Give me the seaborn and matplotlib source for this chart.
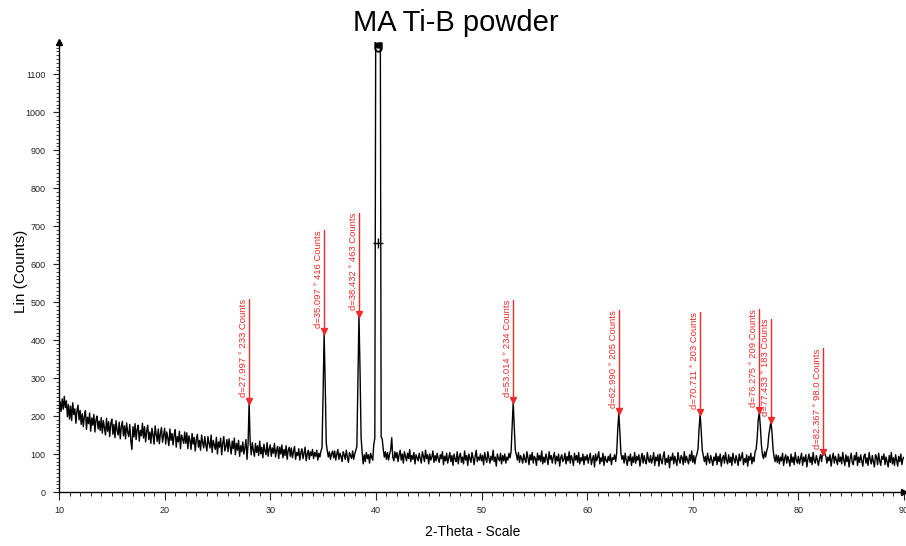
import numpy as np
import matplotlib
matplotlib.use("Agg")
import matplotlib.pyplot as plt
from matplotlib.ticker import MultipleLocator
import matplotlib.transforms as mtransforms
import seaborn as sns

# XRD scan, 2-theta from 10 to 90 deg, step 0.1 deg (one row = 2 deg)
theta_start = 10.0
theta_step = 0.1
counts = [
    200, 238, 212, 245, 218, 252, 222, 240, 198, 230, 192, 226, 188, 235, 204, 219, 181, 214, 229, 190,
    215, 178, 206, 172, 199, 214, 165, 197, 180, 208, 160, 195, 176, 204, 158, 190, 200, 166, 187, 162,
    196, 155, 188, 168, 150, 194, 160, 185, 146, 180, 192, 152, 178, 143, 188, 162, 150, 184, 140, 172,
    186, 148, 174, 140, 182, 158, 146, 178, 136, 112, 172, 145, 180, 138, 165, 176, 134, 162, 148, 181,
    142, 172, 132, 160, 176, 138, 158, 128, 168, 150, 126, 174, 152, 133, 166, 127, 154, 170, 131, 150,
    168, 126, 158, 142, 122, 166, 136, 154, 124, 150, 164, 118, 146, 132, 160, 114, 150, 140, 128, 158,
    128, 156, 114, 148, 136, 112, 154, 126, 144, 108, 138, 152, 118, 136, 110, 150, 130, 116, 146, 124,
    108, 146, 128, 116, 150, 104, 136, 124, 112, 144, 100, 132, 118, 142, 98, 128, 146, 108, 120, 138,
    106, 140, 120, 100, 134, 114, 142, 98, 128, 110, 136, 94, 122, 106, 132, 100, 116, 138, 86, 126,
    235, 130, 98, 130, 110, 94, 128, 104, 122, 96, 134, 100, 118, 90, 126, 108, 98, 130, 94, 114,
    124, 94, 116, 102, 128, 92, 110, 120, 88, 118, 100, 124, 90, 112, 96, 122, 86, 110, 118, 94,
    116, 90, 106, 120, 86, 104, 96, 114, 84, 104, 114, 88, 102, 118, 82, 100, 110, 86, 106, 96,
    112, 88, 104, 94, 110, 84, 102, 92, 108, 116, 255, 418, 290, 130, 108, 92, 106, 86, 100, 108,
    90, 108, 84, 100, 112, 86, 102, 94, 80, 106, 98, 86, 110, 92, 78, 104, 96, 88, 108, 86,
    100, 110, 120, 300, 465, 320, 145, 104, 74, 98, 80, 104, 88, 98, 76, 102, 92, 84, 124, 142,
    1400, 2600, 3000, 2600, 1500, 145, 140, 112, 92, 106, 86, 104, 84, 100, 110, 143, 92, 82, 106, 90,
    104, 80, 98, 110, 84, 100, 76, 106, 94, 82, 102, 88, 112, 80, 96, 86, 104, 74, 98, 90,
    82, 102, 88, 76, 106, 94, 80, 110, 88, 98, 74, 100, 84, 92, 108, 78, 96, 82, 102, 88,
    78, 98, 88, 106, 72, 94, 82, 102, 76, 90, 104, 80, 96, 70, 100, 86, 80, 106, 74, 94,
    102, 78, 92, 74, 108, 84, 96, 70, 100, 88, 78, 104, 90, 72, 94, 110, 80, 92, 84, 100,
    82, 96, 72, 104, 88, 78, 106, 90, 76, 94, 84, 110, 80, 92, 68, 100, 88, 82, 102, 74,
    96, 82, 100, 76, 92, 84, 102, 90, 106, 168, 236, 172, 110, 98, 84, 104, 78, 96, 88, 76,
    100, 86, 78, 106, 90, 72, 98, 84, 104, 76, 94, 88, 70, 102, 84, 96, 80, 108, 74, 92,
    78, 100, 88, 72, 106, 86, 96, 76, 92, 104, 74, 94, 82, 100, 68, 90, 98, 80, 86, 102,
    74, 94, 82, 106, 76, 96, 86, 70, 102, 84, 96, 78, 104, 74, 90, 82, 100, 72, 94, 84,
    98, 76, 90, 102, 72, 86, 96, 66, 100, 82, 92, 106, 74, 90, 80, 102, 70, 94, 84, 78,
    94, 82, 100, 72, 90, 86, 98, 80, 104, 165, 207, 158, 102, 86, 96, 76, 102, 84, 70, 94,
    82, 100, 70, 92, 78, 104, 76, 94, 84, 98, 68, 88, 102, 76, 96, 82, 74, 104, 86, 78,
    96, 76, 86, 104, 70, 92, 82, 98, 68, 100, 84, 74, 94, 106, 72, 88, 78, 96, 64, 92,
    84, 102, 74, 94, 82, 70, 104, 86, 76, 96, 90, 72, 106, 78, 94, 84, 74, 98, 82, 108,
    78, 96, 74, 92, 100, 114, 168, 205, 162, 110, 96, 80, 94, 72, 102, 86, 76, 96, 84, 70,
    92, 82, 102, 72, 94, 80, 100, 68, 88, 96, 76, 104, 84, 74, 98, 78, 92, 70, 102, 86,
    76, 96, 84, 70, 100, 82, 92, 104, 72, 88, 78, 98, 68, 94, 84, 102, 74, 92, 80, 106,
    112, 142, 190, 210, 172, 124, 98, 88, 106, 92, 108, 118, 150, 168, 185, 158, 114, 92, 80, 98,
    78, 96, 74, 92, 82, 102, 70, 88, 98, 76, 94, 84, 68, 100, 78, 92, 72, 104, 84, 76,
    94, 74, 88, 102, 70, 92, 80, 98, 66, 86, 100, 78, 92, 72, 104, 82, 76, 96, 84, 70,
    88, 98, 80, 104, 106, 100, 94, 76, 92, 82, 98, 68, 88, 102, 76, 94, 84, 72, 100, 80,
    92, 74, 104, 84, 70, 98, 80, 94, 66, 88, 102, 78, 72, 96, 84, 104, 70, 92, 78, 98,
    82, 68, 94, 100, 76, 90, 70, 104, 86, 74, 96, 80, 66, 98, 92, 72, 102, 82, 70, 94,
    86, 100, 72, 92, 80, 66, 96, 78, 104, 74, 90, 70, 98, 84, 68, 94, 80, 100, 72, 88,
    92,
]

# peak search results (position, counts)
peak_pos = [27.997, 35.097, 38.432, 53.014, 62.990, 70.711, 76.275, 77.433, 82.367]
peak_counts = [233, 416, 463, 234, 205, 203, 209, 183, 98.0]
peak_count_labels = ["233", "416", "463", "234", "205", "203", "209", "183", "98.0"]

cursor_counts = 657

two_theta = np.round(theta_start + theta_step * np.arange(len(counts)), 1)
red = "#ee2a2a"

sns.set_style("ticks")
plt.rcParams["font.family"] = ["Liberation Sans", "DejaVu Sans"]
plt.rcParams["text.color"] = "black"
plt.rcParams["axes.labelcolor"] = "black"

fig = plt.figure(figsize=(9.06, 5.46), dpi=100)
ax = fig.add_axes([59 / 906, 1 - 492 / 546, 845 / 906, 450 / 546])

sns.lineplot(x=two_theta, y=counts, ax=ax, color="black", linewidth=1.0)

ax.set_xlim(10, 90)
ax.set_ylim(0, 1185)
sns.despine(ax=ax)
for s in ("left", "bottom"):
    ax.spines[s].set_linewidth(1.0)
    ax.spines[s].set_color("black")

ax.xaxis.set_major_locator(MultipleLocator(10))
ax.xaxis.set_minor_locator(MultipleLocator(1))
ax.yaxis.set_major_locator(MultipleLocator(100))
ax.yaxis.set_minor_locator(MultipleLocator(10))
ax.tick_params(axis="x", which="major", direction="out", length=6, width=0.8,
               labelsize=6.5, pad=4, colors="#222222")
ax.tick_params(axis="x", which="minor", direction="out", length=3, width=0.7)
ax.tick_params(axis="y", which="major", direction="out", length=4.5, width=0.8,
               labelsize=6.5, pad=5, colors="#222222")
ax.tick_params(axis="y", which="minor", direction="out", length=2.2, width=0.6)

# arrow heads on the axes ends
ax.plot(0, 1, marker="^", color="black", ms=4, transform=ax.transAxes, clip_on=False)
ax.plot(1, 0, marker=">", color="black", ms=4, transform=ax.transAxes, clip_on=False)

# off-scale marker on the main peak
top_x = two_theta[int(np.argmax(counts))]
blend = mtransforms.blended_transform_factory(ax.transData, ax.transAxes)
ax.plot(top_x, 0.993, marker="o", color="black", ms=3.5, transform=blend, clip_on=False)
ax.plot(top_x, 0.99, marker=r"$\cup$", color="black", ms=7, mew=0.3,
        transform=blend, clip_on=False)
ax.plot(top_x, cursor_counts, marker="+", color="black", ms=7, mew=1.0)

ax.set_xlabel("2-Theta - Scale", fontsize=10)
ax.set_ylabel("Lin (Counts)", fontsize=11)
ax.xaxis.set_label_coords(0.49, -0.073)
ax.yaxis.set_label_coords(-0.037, 0.49)

fig.text(456 / 906, 1 - 23 / 546, "MA Ti-B powder", ha="center", va="center",
         fontsize=21, color="black")

# peak labels
texts = []
for pos, c, lab in zip(peak_pos, peak_counts, peak_count_labels):
    ax.plot(pos, c + 7, marker="v", color=red, ms=5, mec=red)
    t = ax.text(pos - 0.1, c + 16, f"d={pos:.3f} \u00b0 {lab} Counts", rotation=90,
                ha="right", va="bottom", color=red, fontsize=6.8)
    texts.append(t)

fig.canvas.draw()
renderer = fig.canvas.get_renderer()
inv = ax.transData.inverted()
for t, pos, c in zip(texts, peak_pos, peak_counts):
    bb = t.get_window_extent(renderer)
    top = inv.transform((bb.x1, bb.y1))[1]
    ax.plot([pos, pos], [c, top], color=red, linewidth=1.0)

fig.savefig("out.png", dpi=100)
